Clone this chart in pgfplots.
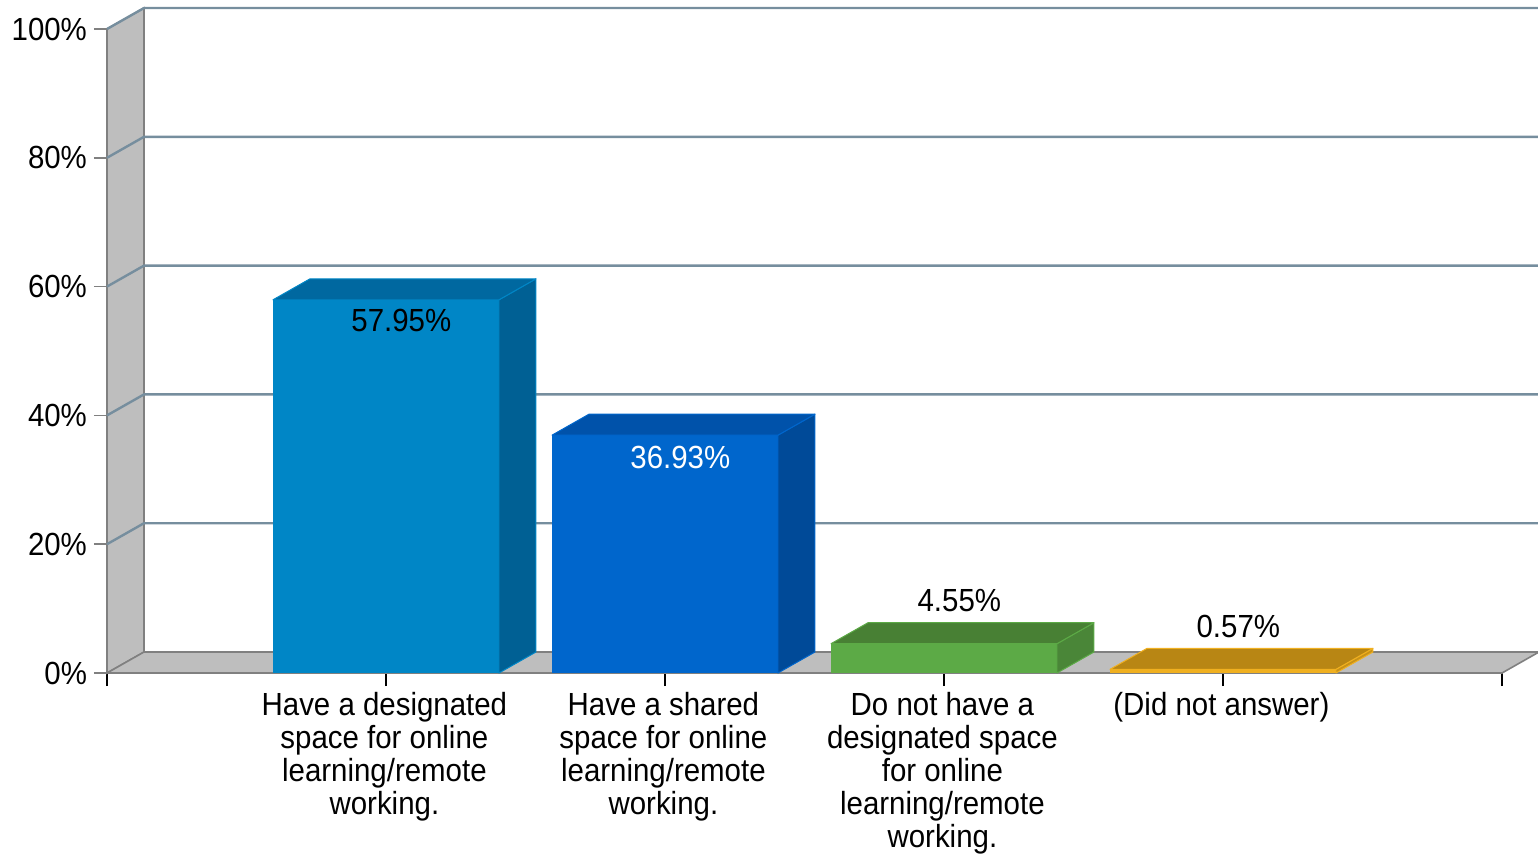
\documentclass[border=0pt]{standalone}
\usepackage{fontspec}
\setmainfont{Liberation Sans}[FakeStretch=0.92]
\usepackage{pgfplots}
\pgfplotsset{compat=1.18}

\definecolor{wallfill}{RGB}{190,190,190}
\definecolor{walledge}{RGB}{128,128,128}
\definecolor{gridc}{RGB}{118,142,158}
\definecolor{bAfront}{RGB}{0,134,198}
\definecolor{bAtop}{RGB}{0,104,160}
\definecolor{bAside}{RGB}{0,96,148}
\definecolor{bBfront}{RGB}{0,102,204}
\definecolor{bBtop}{RGB}{0,82,170}
\definecolor{bBside}{RGB}{0,74,152}
\definecolor{bCfront}{RGB}{92,170,70}
\definecolor{bCtop}{RGB}{72,128,52}
\definecolor{bCside}{RGB}{74,134,56}
\definecolor{bDfront}{RGB}{240,176,32}
\definecolor{bDtop}{RGB}{184,134,20}
\definecolor{bDside}{RGB}{200,146,24}

\newcommand\lbl{\fontsize{16pt}{16.5pt}\selectfont}
% depth of the 3-D effect (x in category units, y in percent) and half bar width
\newcommand\depx{0.1326}
\newcommand\depy{3.26}
\newcommand\halfw{0.405}

% #1 category position, #2 value, #3 front, #4 top, #5 side colour
\newcommand\barthreed[5]{%
  \pgfmathsetmacro\xl{#1-\halfw}%
  \pgfmathsetmacro\xr{#1+\halfw}%
  \pgfmathsetmacro\xlb{#1-\halfw+\depx}%
  \pgfmathsetmacro\xrb{#1+\halfw+\depx}%
  \pgfmathsetmacro\yt{#2+\depy}%
  \addplot[fill=#3, draw=none] coordinates {(\xl,0) (\xl,#2) (\xr,#2) (\xr,0)} -- cycle;
  \addplot[fill=#5, draw=#3, line width=0.5pt, line join=round] coordinates {(\xr,0) (\xr,#2) (\xrb,\yt) (\xrb,\depy)} -- cycle;
  \addplot[fill=#4, draw=#3, line width=0.5pt, line join=round] coordinates {(\xl,#2) (\xlb,\yt) (\xrb,\yt) (\xr,#2)} -- cycle;
}

\begin{document}
\begin{tikzpicture}
\path[use as bounding box] (-53.5pt,-90pt) rectangle (715.5pt,336.5pt);
\begin{axis}[
  scale only axis, width=697.5pt, height=322pt,
  xmin=0, xmax=5, ymin=0, ymax=100,
  clip=false,
  axis line style={draw=none},
  xtick={0,1,2,3,4,5},
  xticklabels={{},{Have a designated\\space for online\\learning/remote\\working.},{Have a shared\\space for online\\learning/remote\\working.},{Do not have a\\designated space\\for online\\learning/remote\\working.},{(Did not answer)},{}},
  ytick={0,20,40,60,80,100},
  yticklabels={0\%,20\%,40\%,60\%,80\%,100\%},
  xtick pos=left, ytick pos=left,
  tick align=outside,
  major tick length=6.5pt,
  x tick style={black, line width=0.8pt},
  y tick style={walledge, line width=0.8pt},
  xticklabel style={align=center, anchor=north, font=\lbl, yshift=0.5pt, xshift=-0.8pt},
  yticklabel style={font=\lbl},
]
% left wall and floor
\addplot[fill=wallfill, draw=walledge, line width=0.8pt] coordinates {(0,0) (0,100) (0.1326,103.26) (0.1326,3.26)} -- cycle;
\addplot[fill=wallfill, draw=walledge, line width=0.8pt] coordinates {(0,0) (0.1326,3.26) (5.1326,3.26) (5,0)} -- cycle;
% gridlines on the back wall
\addplot[gridc, line width=1.2pt] coordinates {(0,20) (0.1326,23.26) (5.1326,23.26)};
\addplot[gridc, line width=1.2pt] coordinates {(0,40) (0.1326,43.26) (5.1326,43.26)};
\addplot[gridc, line width=1.2pt] coordinates {(0,60) (0.1326,63.26) (5.1326,63.26)};
\addplot[gridc, line width=1.2pt] coordinates {(0,80) (0.1326,83.26) (5.1326,83.26)};
\addplot[gridc, line width=1.2pt] coordinates {(0,100) (0.1326,103.26) (5.1326,103.26)};
% bars
\barthreed{1}{57.95}{bAfront}{bAtop}{bAside}
\barthreed{2}{36.93}{bBfront}{bBtop}{bBside}
\barthreed{3}{4.55}{bCfront}{bCtop}{bCside}
\barthreed{4}{0.57}{bDfront}{bDtop}{bDside}
% value labels
\node[font=\lbl, text=black] at (axis cs:1.055,57.95) [yshift=-10.5pt] {57.95\%};
\node[font=\lbl, text=white] at (axis cs:2.055,36.93) [yshift=-11pt] {36.93\%};
\node[font=\lbl, text=black] at (axis cs:3.055,7.81) [yshift=11pt] {4.55\%};
\node[font=\lbl, text=black] at (axis cs:4.055,3.83) [yshift=11pt] {0.57\%};
\end{axis}
\end{tikzpicture}
\end{document}
